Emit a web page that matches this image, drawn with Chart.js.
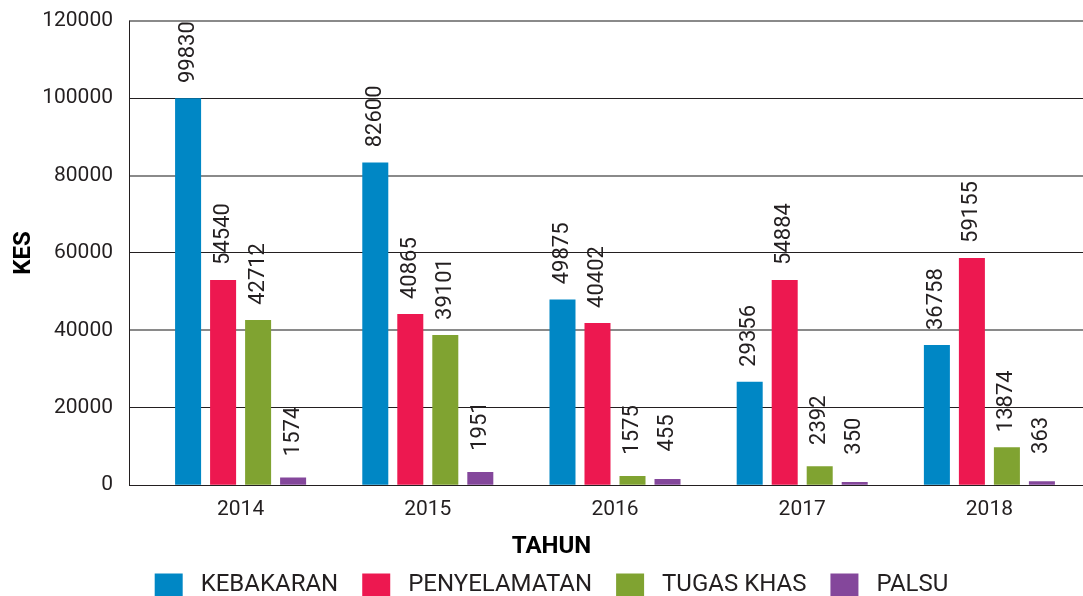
<!DOCTYPE html>
<html>
<head>
<meta charset="utf-8">
<script src="https://cdn.jsdelivr.net/npm/chart.js@4.4.1/dist/chart.umd.min.js"></script>
<style>
    body { margin: 0; background: #ffffff; }
    canvas { display: block; }
</style>
</head>
<body>
<canvas id="chartKes" width="1083" height="596"></canvas>
<script>
const tahun = ['2014', '2015', '2016', '2017', '2018'];
const siri = ['KEBAKARAN', 'PENYELAMATAN', 'TUGAS KHAS', 'PALSU'];
const warna = ['#0087c5', '#ed1850', '#80a331', '#84479b'];

// tinggi bar
const kebakaran = [100000, 83400, 48000, 26700, 36200];
const penyelamatan = [53000, 44200, 41900, 53000, 58700];
const tugasKhas = [42700, 38800, 2400, 4900, 9800];
const palsu = [2000, 3400, 1600, 800, 1000];

// nombor yang tertulis di atas bar
const labelKebakaran = [99830, 82600, 49875, 29356, 36758];
const labelPenyelamatan = [54540, 40865, 40402, 54884, 59155];
const labelTugasKhas = [42712, 39101, 1575, 2392, 13874];
const labelPalsu = [1574, 1951, 455, 350, 363];

const yTicks = [0, 20000, 40000, 60000, 80000, 100000, 120000];

const nilaiSiri = [kebakaran, penyelamatan, tugasKhas, palsu];
const labelSiri = [labelKebakaran, labelPenyelamatan, labelTugasKhas, labelPalsu];

const teks = '#231f20';
const FONT = 'Roboto';

// garis paksi menegak di hujung tick
const paksiKiri = {
    id: 'paksiKiri',
    afterDatasetsDraw(chart) {
        const ctx = chart.ctx;
        const y = chart.scales.y;
        const x = chart.chartArea.left - chart.options.scales.y.grid.tickLength + 0.5;
        ctx.save();
        ctx.strokeStyle = teks;
        ctx.lineWidth = 1;
        ctx.beginPath();
        ctx.moveTo(x, y.getPixelForValue(yTicks[yTicks.length - 1]));
        ctx.lineTo(x, y.getPixelForValue(0) + 0.5);
        ctx.stroke();
        ctx.restore();
    }
};

// label menegak di atas setiap bar
const labelBar = {
    id: 'labelBar',
    afterDatasetsDraw(chart) {
        const ctx = chart.ctx;
        ctx.save();
        ctx.fillStyle = teks;
        ctx.font = '22px ' + FONT;
        ctx.textAlign = 'center';
        ctx.textBaseline = 'middle';
        chart.data.datasets.forEach((ds, i) => {
            chart.getDatasetMeta(i).data.forEach((bar, j) => {
                ctx.save();
                ctx.translate(bar.x, bar.y - 46);
                ctx.rotate(-Math.PI / 2);
                ctx.fillText(String(labelSiri[i][j]), 0, 0);
                ctx.restore();
            });
        });
        ctx.restore();
    }
};

const ctx = document.getElementById('chartKes').getContext('2d');
new Chart(ctx, {
    type: 'bar',
    data: {
        labels: tahun,
        datasets: siri.map((nama, i) => ({
            label: nama,
            data: nilaiSiri[i],
            backgroundColor: warna[i],
            borderWidth: 0,
            categoryPercentage: 0.748,
            barPercentage: 0.743
        }))
    },
    options: {
        responsive: false,
        animation: false,
        devicePixelRatio: 1,
        layout: {
            padding: { left: 20, right: 0, top: 0, bottom: 0 }
        },
        scales: {
            x: {
                afterFit: function (scale) {
                    scale.height = 35;
                },
                grid: { display: false, drawTicks: false },
                border: { display: false },
                ticks: {
                    color: teks,
                    font: { family: FONT, size: 21 },
                    padding: 12,
                    maxRotation: 0
                }
            },
            y: {
                min: 0,
                max: 120000,
                afterFit: function (scale) {
                    scale.width = 127;
                },
                afterBuildTicks: function (scale) {
                    scale.ticks = yTicks.map(v => ({ value: v }));
                },
                border: { display: false },
                grid: {
                    tickLength: 18,
                    color: c => (c.tick && c.tick.value % 40000 === 0 && c.tick.value !== 0) ? '#8a8a8a' : teks,
                    lineWidth: c => (c.tick && c.tick.value % 40000 === 0 && c.tick.value !== 0) ? 2 : 1
                },
                ticks: {
                    color: teks,
                    // lineHeight kecil supaya ruang atas carta tidak terlalu besar
                    font: { family: FONT, size: 21, lineHeight: 0.45 },
                    padding: 16,
                    callback: v => String(v)
                },
                title: {
                    display: true,
                    text: 'KES',
                    color: '#000000',
                    font: { family: FONT, size: 24, weight: 'bold' },
                    padding: { top: -10, bottom: 0 }
                }
            }
        },
        plugins: {
            tooltip: { enabled: false },
            title: {
                display: true,
                position: 'bottom',
                weight: 500,
                text: 'TAHUN',
                color: '#000000',
                font: { family: FONT, size: 24, weight: 'bold' },
                padding: { top: 12, bottom: -12 }
            },
            legend: {
                position: 'bottom',
                maxHeight: 47,
                labels: {
                    boxWidth: 28,
                    boxHeight: 23,
                    padding: 24,
                    color: teks,
                    font: { family: FONT, size: 24 },
                    generateLabels: function (chart) {
                        return Chart.defaults.plugins.legend.labels.generateLabels(chart).map(item => {
                            item.text = ' ' + item.text;
                            item.lineWidth = 0;
                            return item;
                        });
                    }
                }
            }
        }
    },
    plugins: [paksiKiri, labelBar]
});
</script>
</body>
</html>
